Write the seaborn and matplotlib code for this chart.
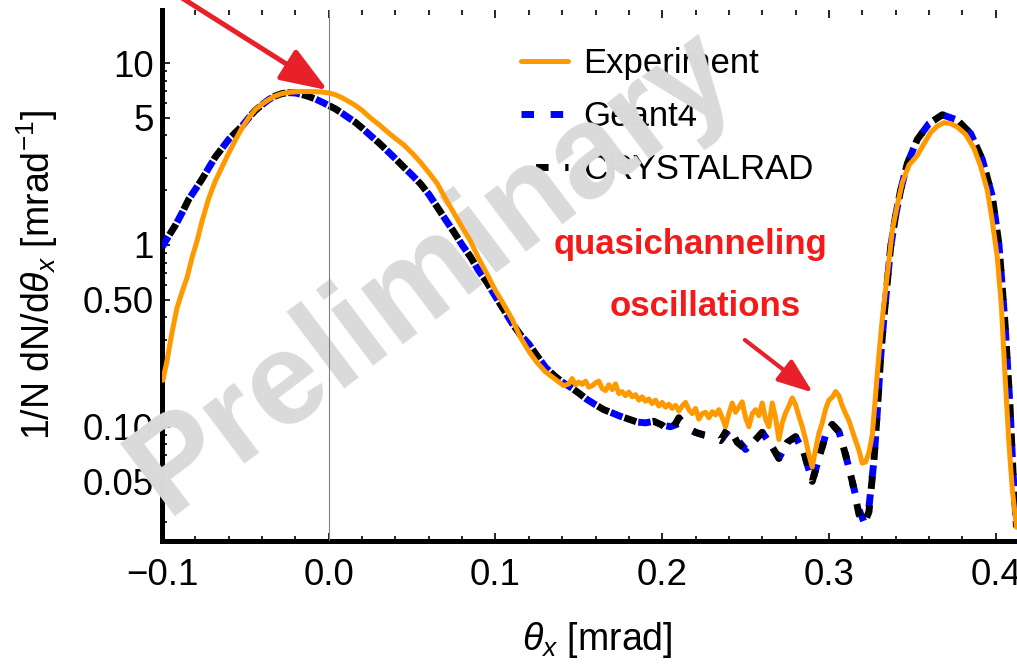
import matplotlib
matplotlib.use("Agg")
import numpy as np
import matplotlib.pyplot as plt
import matplotlib.ticker as mticker
import seaborn as sns

# --------------------------
# DATA
# --------------------------
theta_sim = [-0.100, -0.096, -0.092, -0.088, -0.084, -0.080, -0.076, -0.072, -0.068, -0.064,
             -0.060, -0.056, -0.052, -0.048, -0.044, -0.040, -0.036, -0.032, -0.028, -0.024,
             -0.020, -0.016, -0.012, -0.008, -0.004, 0.000, 0.004, 0.008, 0.012, 0.016,
             0.020, 0.025, 0.030, 0.035, 0.040, 0.045, 0.050, 0.055, 0.060, 0.065,
             0.070, 0.075, 0.080, 0.085, 0.090, 0.095, 0.100, 0.105, 0.110, 0.115,
             0.120, 0.125, 0.130, 0.135, 0.140, 0.145, 0.150, 0.155, 0.160, 0.165,
             0.170, 0.175, 0.180, 0.185, 0.190, 0.195, 0.200, 0.205, 0.210, 0.215,
             0.220, 0.225, 0.230, 0.235, 0.240, 0.245, 0.250, 0.255, 0.260, 0.265,
             0.270, 0.275, 0.280, 0.285, 0.290, 0.294, 0.298, 0.302, 0.306, 0.310,
             0.314, 0.318, 0.321, 0.324, 0.327, 0.329, 0.331, 0.333, 0.335, 0.337,
             0.340, 0.343, 0.347, 0.353, 0.360, 0.368, 0.377, 0.385, 0.392, 0.398,
             0.402, 0.4056, 0.4086, 0.4104, 0.4125]

geant4 = [0.97, 1.12, 1.28, 1.50, 1.78, 2.02, 2.30, 2.65, 3.05, 3.40,
          3.80, 4.15, 4.50, 5.00, 5.50, 5.90, 6.30, 6.60, 6.80, 6.88,
          6.85, 6.72, 6.55, 6.35, 6.10, 5.85, 5.60, 5.30, 5.00, 4.72,
          4.40, 4.00, 3.65, 3.30, 2.98, 2.68, 2.42, 2.17, 1.90, 1.62,
          1.38, 1.18, 1.00, 0.86, 0.72, 0.62, 0.52, 0.44, 0.37, 0.32,
          0.285, 0.245, 0.212, 0.192, 0.176, 0.165, 0.153, 0.141, 0.132, 0.124,
          0.119, 0.114, 0.110, 0.106, 0.105, 0.107, 0.102, 0.100, 0.104, 0.100,
          0.093, 0.090, 0.088, 0.084, 0.096, 0.085, 0.075, 0.083, 0.093, 0.080,
          0.067, 0.082, 0.088, 0.072, 0.050, 0.067, 0.090, 0.103, 0.094, 0.070,
          0.050, 0.035, 0.030, 0.036, 0.065, 0.12, 0.24, 0.40, 0.62, 0.97,
          1.45, 2.00, 2.80, 3.80, 4.65, 5.20, 4.86, 4.10, 2.95, 1.85,
          1.00, 0.37, 0.13, 0.056, 0.028]

crystalrad = [0.97, 1.12, 1.28, 1.50, 1.78, 2.02, 2.30, 2.65, 3.05, 3.40,
              3.80, 4.15, 4.50, 5.00, 5.50, 5.90, 6.30, 6.60, 6.80, 6.88,
              6.85, 6.72, 6.55, 6.35, 6.10, 5.85, 5.60, 5.30, 5.00, 4.72,
              4.40, 4.00, 3.65, 3.30, 2.98, 2.68, 2.42, 2.17, 1.90, 1.62,
              1.38, 1.18, 1.00, 0.86, 0.72, 0.62, 0.52, 0.44, 0.37, 0.32,
              0.285, 0.245, 0.212, 0.192, 0.176, 0.165, 0.153, 0.141, 0.132, 0.124,
              0.119, 0.114, 0.110, 0.106, 0.105, 0.107, 0.102, 0.093, 0.112, 0.097,
              0.093, 0.090, 0.088, 0.084, 0.100, 0.082, 0.075, 0.083, 0.093, 0.080,
              0.067, 0.082, 0.088, 0.072, 0.050, 0.067, 0.090, 0.103, 0.094, 0.070,
              0.050, 0.033, 0.029, 0.034, 0.065, 0.12, 0.24, 0.40, 0.62, 0.97,
              1.45, 2.00, 2.80, 3.80, 4.65, 5.20, 4.86, 4.10, 2.95, 1.85,
              1.00, 0.37, 0.13, 0.056, 0.028]

theta_exp = [-0.0995, -0.097, -0.094, -0.091, -0.088, -0.085, -0.082, -0.079, -0.076, -0.072,
             -0.068, -0.064, -0.060, -0.056, -0.052, -0.048, -0.044, -0.040, -0.036, -0.032,
             -0.028, -0.024, -0.020, -0.016, -0.012, -0.008, -0.004, 0.000, 0.004, 0.008,
             0.012, 0.016, 0.020, 0.025, 0.030, 0.035, 0.040, 0.045, 0.050, 0.055,
             0.060, 0.065, 0.070, 0.075, 0.080, 0.085, 0.090, 0.095, 0.100, 0.105,
             0.110, 0.115, 0.120, 0.125, 0.130, 0.134, 0.138, 0.141, 0.144, 0.146,
             0.148, 0.150, 0.152, 0.154, 0.156, 0.158, 0.160, 0.162, 0.164, 0.166,
             0.168, 0.170, 0.172, 0.174, 0.176, 0.178, 0.180, 0.182, 0.184, 0.186,
             0.188, 0.190, 0.192, 0.194, 0.196, 0.198, 0.200, 0.202, 0.204, 0.206,
             0.208, 0.210, 0.212, 0.214, 0.216, 0.218, 0.220, 0.222, 0.224, 0.226,
             0.228, 0.230, 0.232, 0.234, 0.236, 0.238, 0.240, 0.242, 0.244, 0.246,
             0.248, 0.250, 0.252, 0.254, 0.256, 0.258, 0.260, 0.262, 0.264, 0.266,
             0.268, 0.270, 0.272, 0.274, 0.276, 0.278, 0.280, 0.282, 0.284, 0.286,
             0.288, 0.290, 0.292, 0.294, 0.296, 0.298, 0.300, 0.302, 0.304, 0.306,
             0.308, 0.310, 0.312, 0.314, 0.316, 0.318, 0.320, 0.322, 0.324, 0.326,
             0.328, 0.330, 0.332, 0.334, 0.336, 0.338, 0.341, 0.344, 0.348, 0.353,
             0.357, 0.361, 0.365, 0.369, 0.373, 0.377, 0.382, 0.387, 0.391, 0.395,
             0.398, 0.401, 0.4035, 0.4055, 0.408, 0.410, 0.4125]

experiment = [0.18, 0.23, 0.33, 0.45, 0.55, 0.66, 0.85, 1.05, 1.35, 1.80,
              2.25, 2.68, 3.20, 3.77, 4.40, 5.00, 5.55, 5.95, 6.30, 6.60,
              6.80, 6.90, 6.95, 6.98, 6.98, 6.96, 6.93, 6.85, 6.70, 6.45,
              6.15, 5.85, 5.50, 5.00, 4.60, 4.20, 3.85, 3.55, 3.20, 2.85,
              2.50, 2.18, 1.80, 1.50, 1.25, 1.05, 0.84, 0.69, 0.56, 0.47,
              0.39, 0.31, 0.26, 0.225, 0.20, 0.188, 0.176, 0.168, 0.172, 0.184,
              0.170, 0.176, 0.171, 0.178, 0.165, 0.168, 0.174, 0.178, 0.162, 0.158,
              0.170, 0.160, 0.172, 0.152, 0.156, 0.148, 0.155, 0.146, 0.150, 0.140,
              0.146, 0.138, 0.142, 0.134, 0.140, 0.130, 0.136, 0.128, 0.133, 0.126,
              0.131, 0.122, 0.130, 0.136, 0.124, 0.118, 0.126, 0.110, 0.118, 0.120,
              0.112, 0.121, 0.116, 0.124, 0.112, 0.100, 0.118, 0.135, 0.120, 0.128,
              0.137, 0.112, 0.100, 0.118, 0.124, 0.115, 0.135, 0.110, 0.100, 0.135,
              0.112, 0.085, 0.105, 0.119, 0.130, 0.144, 0.132, 0.114, 0.100, 0.085,
              0.070, 0.060, 0.075, 0.092, 0.105, 0.125, 0.140, 0.145, 0.156, 0.148,
              0.130, 0.118, 0.108, 0.095, 0.084, 0.074, 0.063, 0.064, 0.072, 0.090,
              0.150, 0.25, 0.39, 0.57, 0.82, 1.20, 1.65, 2.20, 2.75, 3.10,
              3.60, 4.15, 4.50, 4.70, 4.65, 4.45, 4.05, 3.40, 2.70, 2.00,
              1.35, 0.85, 0.45, 0.20, 0.08, 0.045, 0.028]

xtick_vals = [-0.1, 0.0, 0.1, 0.2, 0.3, 0.4]
xtick_labels = ["\u22120.1", "0.0", "0.1", "0.2", "0.3", "0.4"]
ytick_vals = [0.05, 0.1, 0.5, 1, 5, 10]
ytick_labels = ["0.05", "0.10", "0.50", "1", "5", "10"]

# --------------------------
# STYLE
# --------------------------
sns.set_theme(style="ticks")
plt.rcParams["font.family"] = ["Liberation Sans", "DejaVu Sans"]
plt.rcParams["mathtext.fontset"] = "custom"
plt.rcParams["mathtext.rm"] = "Liberation Sans"
plt.rcParams["mathtext.it"] = "Liberation Sans:italic"
plt.rcParams["lines.scale_dashes"] = False
for key in ["text.color", "axes.labelcolor", "xtick.color", "ytick.color",
            "xtick.labelcolor", "ytick.labelcolor"]:
    plt.rcParams[key] = "black"

W, H = 1017, 665
fig = plt.figure(figsize=(W / 100, H / 100), dpi=100)
ax = fig.add_axes([162 / W, 124 / H, 855 / W, 531 / H])

# --------------------------
# CURVES
# --------------------------
sns.lineplot(x=theta_sim, y=geant4, ax=ax, color="#0000ff", lw=5,
             linestyle=(0, (9, 12)), errorbar=None, zorder=3, label="Geant4")
sns.lineplot(x=theta_sim, y=crystalrad, ax=ax, color="black", lw=5,
             linestyle=(10.5, (9, 12)), errorbar=None, zorder=3.5, label="CRYSTALRAD")
sns.lineplot(x=theta_exp, y=experiment, ax=ax, color="#ff9900", lw=3.6,
             errorbar=None, zorder=7, label="Experiment")

ax.set_yscale("log")
ax.set_xlim(-0.1, 0.4128)
ax.set_ylim(0.0235, 19.6)

ax.axvline(0, color="#808080", lw=0.8, zorder=6.5)

# --------------------------
# AXES / TICKS
# --------------------------
ax.set_xticks(xtick_vals, xtick_labels)
ax.set_yticks(ytick_vals, ytick_labels)
ax.xaxis.set_minor_locator(mticker.MultipleLocator(0.02))
ax.yaxis.set_minor_locator(mticker.LogLocator(base=10, subs=np.arange(2, 10)))
ax.yaxis.set_minor_formatter(mticker.NullFormatter())

ax.tick_params(which="both", direction="in", top=True, right=False, color="black", width=1.2)
ax.tick_params(which="major", length=6, labelsize=26.5, labelcolor="black")
ax.tick_params(which="minor", length=3.5)
ax.tick_params(axis="x", which="major", pad=12)
ax.tick_params(axis="y", which="major", pad=6)

for s in ["top", "right"]:
    ax.spines[s].set_visible(False)
for s in ["left", "bottom"]:
    ax.spines[s].set_linewidth(3.6)
    ax.spines[s].set_color("black")

ax.set_xlabel(r"$\theta_x$ [mrad]", fontsize=27, color="black")
ax.set_ylabel(r"1/N dN/d$\theta_x$ [mrad$^{-1}$]", fontsize=27, color="black")
ax.xaxis.set_label_coords(0.509, -0.149)
ax.yaxis.set_label_coords(-0.119, 0.5)

# --------------------------
# LEGEND
# --------------------------
handles, labels = ax.get_legend_handles_labels()
order = [labels.index(l) for l in ["Experiment", "Geant4", "CRYSTALRAD"]]
leg = ax.legend([handles[i] for i in order], [labels[i] for i in order],
                loc="upper left", bbox_to_anchor=(521 / W, 1 - 47 / H),
                bbox_transform=fig.transFigure, frameon=False, fontsize=25,
                handlelength=1.35, handletextpad=0.45, labelspacing=0.58,
                borderpad=0, borderaxespad=0)
for t in leg.get_texts():
    t.set_color("black")

# --------------------------
# ANNOTATIONS
# --------------------------
red = "#e8202a"
ax.annotate("", xy=(-0.0006, 7.1), xytext=(-0.0954, 25.2),
            arrowprops=dict(arrowstyle="-|>,head_length=0.8,head_width=0.3", mutation_scale=36,
                            lw=3.6, color=red, shrinkA=0, shrinkB=0),
            annotation_clip=False, zorder=8)
ax.annotate("", xy=(0.2904, 0.154), xytext=(0.2496, 0.30),
            arrowprops=dict(arrowstyle="-|>,head_length=0.8,head_width=0.3", mutation_scale=27,
                            lw=3.0, color=red, shrinkA=0, shrinkB=0),
            annotation_clip=False, zorder=8)

ax.text(0.2172, 0.892, "quasichanneling", color="#f41a1a", fontsize=25, fontweight="bold",
        ha="center", va="baseline", zorder=8)
ax.text(0.2256, 0.407, "oscillations", color="#f41a1a", fontsize=25, fontweight="bold",
        ha="center", va="baseline", zorder=8)

# watermark, above the legend and the simulation curves
ax.text(432 / W, 1 - 272 / H, "Preliminary", transform=fig.transFigure, fontsize=95,
        fontweight="bold", color="#dadada", rotation=37, ha="center", va="center",
        rotation_mode="anchor", zorder=6, clip_on=False)

fig.savefig("out.png", dpi=100)
